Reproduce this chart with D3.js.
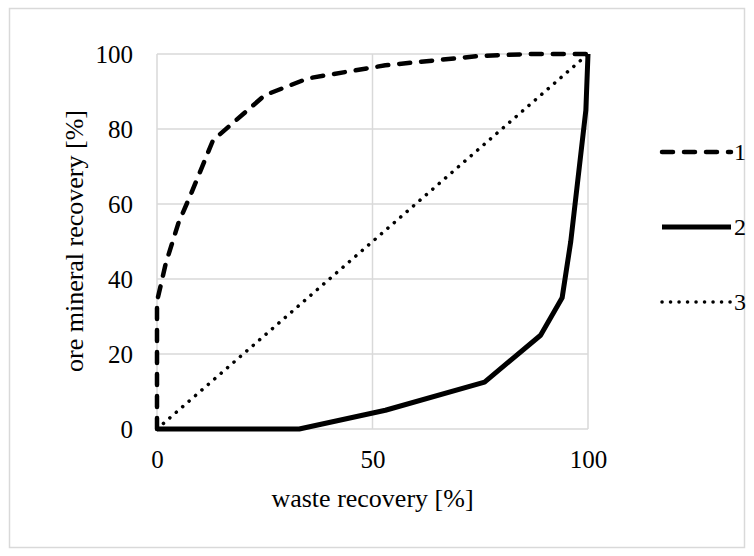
<!DOCTYPE html>
<html>
<head>
<meta charset="utf-8">
<script src="https://cdn.jsdelivr.net/npm/d3@7"></script>
<style>
  body { margin: 0; background: #fff; }
  svg text { font-family: "Liberation Serif", "Times New Roman", serif; fill: #000; }
</style>
</head>
<body>
<svg id="chart"></svg>
<script>
// series 1 (dashed)
var waste1 = [0, 0, 2, 5, 8, 13, 20, 25, 35, 53, 75, 87, 100];
var ore1   = [0, 34, 44, 55, 63, 77, 84, 89, 93.5, 97, 99.5, 100, 100];
// series 2 (solid)
var waste2 = [0, 33, 53, 76, 89, 94, 96, 98, 99.5, 100];
var ore2   = [0, 0, 5, 12.5, 25, 35, 50, 70, 85, 100];
// series 3 (dotted diagonal)
var waste3 = [0, 100];
var ore3   = [0, 100];

var xTicks = [0, 50, 100];
var yTicks = [0, 20, 40, 60, 80, 100];
var seriesNames = ["1", "2", "3"];

var width = 754, height = 556;

var svg = d3.select("#chart")
  .attr("width", width)
  .attr("height", height);

// outer chart border
svg.append("rect")
  .attr("x", 9.5).attr("y", 8.5)
  .attr("width", 735).attr("height", 539)
  .attr("fill", "#fff")
  .attr("stroke", "#d9d9d9")
  .attr("stroke-width", 1.5);

var x = d3.scaleLinear().domain([0, 100]).range([157, 588]);
var y = d3.scaleLinear().domain([0, 100]).range([429, 54]);

// gridlines
svg.append("g").selectAll("line.h")
  .data(yTicks).enter().append("line")
  .attr("x1", x(0)).attr("x2", x(100))
  .attr("y1", function(d) { return y(d); })
  .attr("y2", function(d) { return y(d); })
  .attr("stroke", "#d9d9d9").attr("stroke-width", 1.5);

svg.append("g").selectAll("line.v")
  .data(xTicks).enter().append("line")
  .attr("y1", y(0)).attr("y2", y(100))
  .attr("x1", function(d) { return x(d); })
  .attr("x2", function(d) { return x(d); })
  .attr("stroke", "#d9d9d9").attr("stroke-width", 1.5);

// axes (labels only)
var yAxis = svg.append("g")
  .attr("transform", "translate(" + x(0) + ",0)")
  .call(d3.axisLeft(y).tickValues(yTicks).tickSize(0).tickPadding(24))
  .attr("font-family", null)
  .attr("font-size", null);
yAxis.select(".domain").remove();
yAxis.selectAll("text")
  .style("font-family", "'Liberation Serif', serif")
  .style("font-size", "25px");

var xAxis = svg.append("g")
  .attr("transform", "translate(0," + y(0) + ")")
  .call(d3.axisBottom(x).tickValues(xTicks).tickSize(0))
  .attr("font-family", null)
  .attr("font-size", null);
xAxis.select(".domain").remove();
xAxis.selectAll("text")
  .attr("y", 39).attr("dy", null)
  .style("font-family", "'Liberation Serif', serif")
  .style("font-size", "25px");

// axis titles
svg.append("text")
  .attr("x", x(50)).attr("y", 507)
  .attr("text-anchor", "middle")
  .style("font-size", "26px")
  .text("waste recovery [%]");

svg.append("text")
  .attr("transform", "translate(83,241) rotate(-90)")
  .attr("text-anchor", "middle")
  .style("font-size", "26px")
  .text("ore mineral recovery [%]");

// series
var line = d3.line()
  .x(function(d) { return x(d[0]); })
  .y(function(d) { return y(d[1]); });

var styles = [
  { dash: "11,11", w: 4.5, cap: "round" },
  { dash: null, w: 5, cap: "butt" },
  { dash: "0.1,8.4", w: 3.5, cap: "round" }
];

var series = [d3.zip(waste1, ore1), d3.zip(waste2, ore2), d3.zip(waste3, ore3)];
var order = [2, 0, 1];

order.forEach(function(i) {
  svg.append("path")
    .datum(series[i])
    .attr("d", line)
    .attr("fill", "none")
    .attr("stroke", "#000")
    .attr("stroke-width", styles[i].w)
    .attr("stroke-linecap", styles[i].cap)
    .attr("stroke-linejoin", "round")
    .attr("stroke-dasharray", styles[i].dash);
});

// legend
var legend = svg.append("g").selectAll("g")
  .data(seriesNames).enter().append("g")
  .attr("transform", function(d, i) { return "translate(0," + (152 + i * 75) + ")"; });

legend.append("line")
  .attr("x1", 662).attr("x2", 731)
  .attr("y1", 0).attr("y2", 0)
  .attr("stroke", "#000")
  .attr("stroke-width", function(d, i) { return styles[i].w; })
  .attr("stroke-linecap", function(d, i) { return styles[i].cap; })
  .attr("stroke-dasharray", function(d, i) { return styles[i].dash; });

legend.append("text")
  .attr("x", 734).attr("y", 0)
  .attr("dy", "0.35em")
  .style("font-size", "24px")
  .text(function(d) { return d; });
</script>
</body>
</html>
